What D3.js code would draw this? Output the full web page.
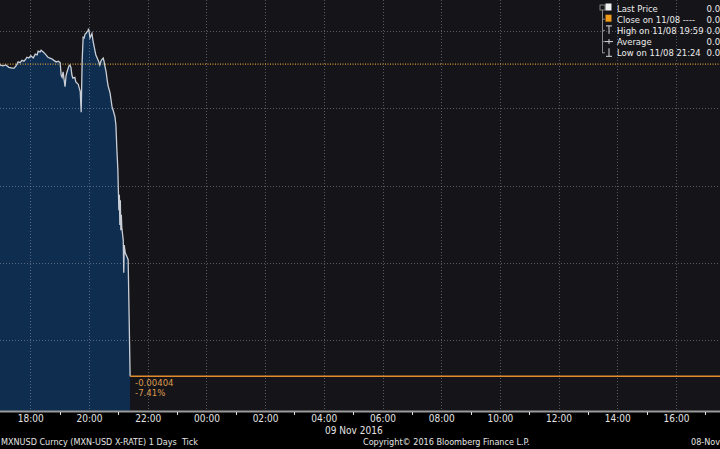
<!DOCTYPE html>
<html><head><meta charset="utf-8">
<script src="https://cdn.jsdelivr.net/npm/d3@7"></script>
<style>html,body{margin:0;padding:0;background:#000;overflow:hidden}</style>
</head><body><svg id="c" width="720" height="449"></svg>
<script>
// ---- data (MXNUSD tick price, 08 Nov 2016) ----
const times = ["16:58","17:04","17:10","17:16","17:23","17:27","17:31","17:35","17:39","17:43",
  "17:47","17:51","17:53","17:57","18:01","18:06","18:10","18:14","18:16","18:20",
  "18:22","18:24","18:28","18:32","18:36","18:40","18:44","18:48","18:53","18:57",
  "19:01","19:03","19:05","19:07","19:09","19:11","19:13","19:15","19:19","19:21",
  "19:23","19:25","19:27","19:31","19:33","19:38","19:40","19:42","19:44","19:46",
  "19:48","19:50","19:52","19:54","19:56","19:58","19:59","20:00","20:02","20:04",
  "20:06","20:08","20:12","20:14","20:16","20:20","20:22","20:25","20:29","20:31",
  "20:33","20:35","20:37","20:39","20:43","20:45","20:47","20:49","20:53","20:55",
  "20:57","20:59","21:00","21:01","21:02","21:03","21:04","21:05","21:06","21:07",
  "21:10","21:11","21:12","21:14","21:16","21:18","21:20","21:22","21:24"];
const prices = [0.05456,0.05455,0.05456,0.05453,0.05452,0.05452,0.05455,0.05460,0.05459,0.05462,
  0.05461,0.05464,0.05466,0.05465,0.05468,0.05465,0.05470,0.05469,0.05474,0.05473,
  0.05475,0.05474,0.05472,0.05469,0.05466,0.05465,0.05464,0.05462,0.05460,0.05461,
  0.05459,0.05443,0.05440,0.05447,0.05437,0.05428,0.05442,0.05447,0.05455,0.05456,
  0.05453,0.05443,0.05439,0.05440,0.05434,0.05431,0.05426,0.05422,0.05395,0.05462,
  0.05492,0.05491,0.05496,0.05497,0.05499,0.05500,0.05503,0.05500,0.05491,0.05494,
  0.05497,0.05488,0.05475,0.05469,0.05466,0.05460,0.05456,0.05462,0.05465,0.05460,
  0.05453,0.05447,0.05437,0.05429,0.05420,0.05411,0.05402,0.05398,0.05389,0.05378,
  0.05346,0.05320,0.05294,0.05268,0.05288,0.05249,0.05281,0.05242,0.05262,0.05246,
  0.05229,0.05187,0.05223,0.05213,0.05210,0.05207,0.05204,0.05130,0.05053];
const closePrice = 0.05457;
const lowPrice = 0.05053;
const lowLabels = ["-0.00404", "-7.41%"];
const gridValues = [0.051, 0.052, 0.053, 0.054, 0.055];
const domainStart = "2016-11-08T16:58", domainEnd = "2016-11-09T17:30";
const tickStart = "2016-11-08T18:00", tickEnd = "2016-11-09T16:00";
const legendLabels = ["Last Price", "Close on 11/08 ----", "High on 11/08 19:59", "Average", "Low on 11/08 21:24"];
const legendValues = ["0.0", "0.0", "0.0", "0.0", "0.0"];
const dateLabel = "09 Nov 2016";
const footerLeft = "MXNUSD Curncy (MXN-USD X-RATE) 1 Days  Tick";
const footerMid = "Copyright\u00A9 2016 Bloomberg Finance L.P.";
const footerRight = "08-Nov";

// ---- drawing ----
const W = 720, H = 449, plotBottom = 411;
const parse = d3.timeParse("%Y-%m-%dT%H:%M");
const data = times.map((t, i) => ({ t: parse("2016-11-08T" + t), v: prices[i] }));
const x = d3.scaleTime().domain([parse(domainStart), parse(domainEnd)]).range([0, W]);
const y = d3.scaleLinear().domain([0.051, 0.055]).range([340, 31]);

const svg = d3.select("#c");
const font = "'DejaVu Sans Condensed', 'DejaVu Sans', Verdana, sans-serif";

// backgrounds
svg.append("rect").attr("x", 0).attr("y", 0).attr("width", W).attr("height", plotBottom).attr("fill", "#151419");
svg.append("rect").attr("x", 0).attr("y", plotBottom).attr("width", W).attr("height", H - plotBottom).attr("fill", "#000");

// area
const area = d3.area().x(d => x(d.t)).y0(plotBottom).y1(d => y(d.v)).curve(d3.curveLinear);
svg.append("path").datum(data).attr("d", area).attr("fill", "#0f2d4f");

// gridlines
const majorTicks = d3.timeHour.every(2).range(parse(tickStart), d3.timeMinute.offset(parse(tickEnd), 1));
const minorTicks = majorTicks.map(d => d3.timeHour.offset(d, 1));
const g = svg.append("g");
g.selectAll("line.v").data(majorTicks).join("line")
  .attr("x1", d => Math.round(x(d)) + 0.5).attr("x2", d => Math.round(x(d)) + 0.5)
  .attr("y1", 0).attr("y2", plotBottom)
  .attr("stroke", "rgba(170,175,190,0.45)").attr("stroke-dasharray", "1,2");
g.selectAll("line.h").data(gridValues).join("line")
  .attr("x1", 0).attr("x2", W)
  .attr("y1", d => Math.round(y(d)) + 0.5).attr("y2", d => Math.round(y(d)) + 0.5)
  .attr("stroke", "rgba(170,175,190,0.45)").attr("stroke-dasharray", "1,2");

// close line
svg.append("line").attr("x1", 0).attr("x2", W)
  .attr("y1", y(closePrice)).attr("y2", y(closePrice))
  .attr("stroke", "#d39a35").attr("stroke-width", 1.2).attr("stroke-dasharray", "1,1.5");

// price line
const line = d3.line().x(d => x(d.t)).y(d => y(d.v));
svg.append("path").datum(data).attr("d", line).attr("fill", "none")
  .attr("stroke", "#c9ced6").attr("stroke-width", 1.3);

// low line and labels
const last = data[data.length - 1];
svg.append("line").attr("x1", x(last.t)).attr("x2", W)
  .attr("y1", y(lowPrice)).attr("y2", y(lowPrice))
  .attr("stroke", "#e38c2c").attr("stroke-width", 1.5);
svg.selectAll("text.low").data(lowLabels).join("text")
  .attr("x", x(last.t) + 5).attr("y", (d, i) => y(lowPrice) + 10 + i * 10)
  .attr("fill", "#dd9a4e").attr("font-family", font).attr("font-size", 9.5).text(d => d);

// x axis
svg.append("line").attr("x1", 0).attr("x2", W).attr("y1", plotBottom + 0.5).attr("y2", plotBottom + 0.5)
  .attr("stroke", "#9a9a9a").attr("stroke-width", 2);
const axis = d3.axisBottom(x).tickValues(majorTicks).tickFormat(d3.timeFormat("%H:%M")).tickSize(0).tickPadding(4);
const ax = svg.append("g").attr("transform", `translate(0,${plotBottom})`).call(axis);
ax.select(".domain").remove();
ax.selectAll("text").attr("fill", "#e4e4e4").attr("font-family", font).attr("font-size", 10);
svg.selectAll("line.minor").data(minorTicks).join("line")
  .attr("x1", d => Math.round(x(d)) + 0.5).attr("x2", d => Math.round(x(d)) + 0.5)
  .attr("y1", plotBottom + 1).attr("y2", plotBottom + 4)
  .attr("stroke", "#e0e0e0").attr("stroke-width", 1);

svg.append("text").attr("x", 325).attr("y", 434).attr("fill", "#e4e4e4")
  .attr("font-family", font).attr("font-size", 10).text(dateLabel);

// footer
const ft = [[footerLeft, 1], [footerMid, 363], [footerRight, 691]];
svg.selectAll("text.ft").data(ft).join("text")
  .attr("x", d => d[1]).attr("y", 445).attr("fill", "#e4e4e4")
  .attr("xml:space", "preserve").style("white-space", "pre")
  .attr("font-family", font).attr("font-size", 9).text(d => d[0]);

// legend
const lg = svg.append("g");
const rowY = i => 11.5 + i * 11.2;
lg.append("line").attr("x1", 602.5).attr("x2", 602.5).attr("y1", 7).attr("y2", rowY(4) - 3)
  .attr("stroke", "#8a8a8a");
lg.append("rect").attr("x", 600).attr("y", 5).attr("width", 5).attr("height", 5)
  .attr("fill", "#151419").attr("stroke", "#9a9a9a").attr("stroke-width", 0.8);
legendLabels.forEach((lab, i) => {
  const yy = rowY(i);
  if (i > 0) lg.append("line").attr("x1", 602.5).attr("x2", 605).attr("y1", yy - 3.5).attr("y2", yy - 3.5).attr("stroke", "#8a8a8a");
  if (i === 0) lg.append("rect").attr("x", 605.5).attr("y", yy - 8).attr("width", 6).attr("height", 7).attr("fill", "#f2f2f2");
  if (i === 1) lg.append("rect").attr("x", 605.5).attr("y", yy - 8).attr("width", 6).attr("height", 7).attr("fill", "#f09a1a");
  if (i === 2) lg.append("path").attr("d", `M606,${yy - 8}H612M609,${yy - 8}V${yy}`).attr("stroke", "#d8d8d8").attr("fill", "none");
  if (i === 3) lg.append("path").attr("d", `M605,${yy - 3.5}H613M609,${yy - 6}V${yy - 1}`).attr("stroke", "#d8d8d8").attr("fill", "none");
  if (i === 4) lg.append("path").attr("d", `M606,${yy}H612M609,${yy - 8}V${yy}`).attr("stroke", "#d8d8d8").attr("fill", "none");
  lg.append("text").attr("x", 617).attr("y", yy).attr("fill", "#ececec")
    .attr("font-family", font).attr("font-size", 9.4).text(lab);
  lg.append("text").attr("x", 706.5).attr("y", yy).attr("fill", "#ececec")
    .attr("font-family", font).attr("font-size", 9.5).text(legendValues[i]);
});
</script></body></html>
